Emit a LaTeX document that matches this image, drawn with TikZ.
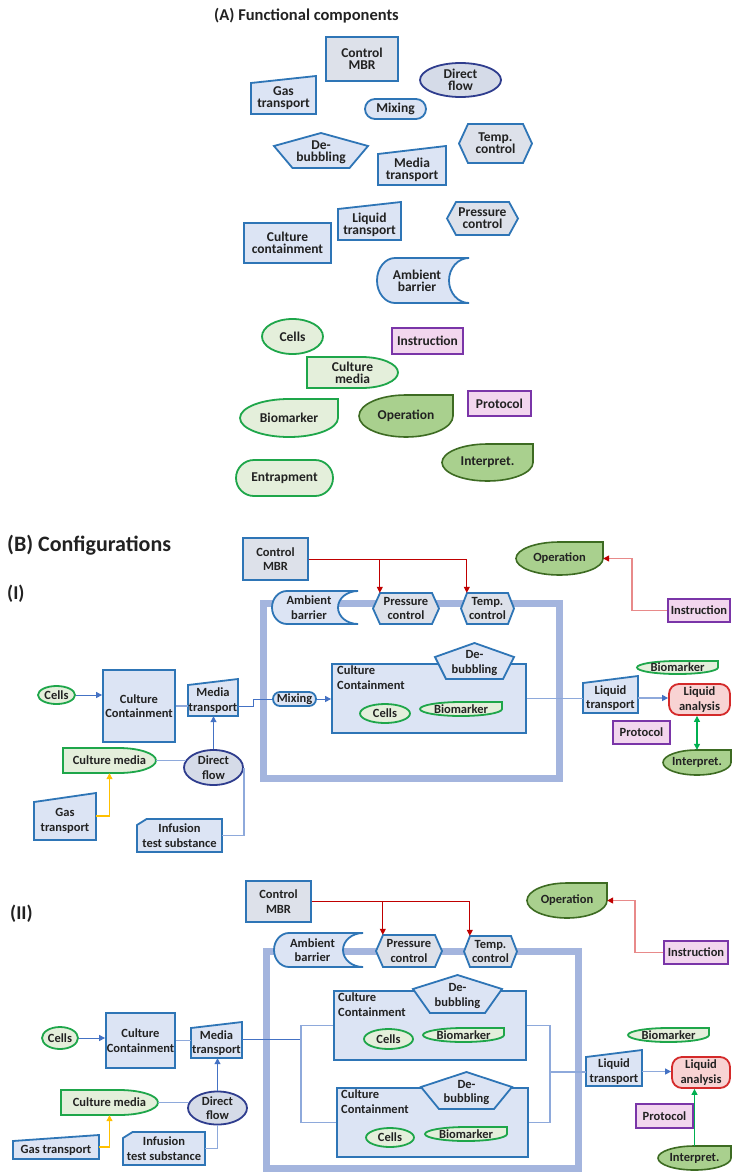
\documentclass[tikz,border=0pt]{standalone}
\usepackage{fontspec}
\setmainfont{Carlito}
\usetikzlibrary{shapes.geometric,arrows.meta,calc}

\definecolor{ink}{HTML}{222222}
\definecolor{bord}{HTML}{2E75B6}
\definecolor{fillb}{HTML}{DCE4F4}
\definecolor{fillg}{HTML}{DDE1EA}
\definecolor{navy}{HTML}{2F3D8E}
\definecolor{dffill}{HTML}{D5DBE8}
\definecolor{lgfill}{HTML}{E4EFDB}
\definecolor{lgbord}{HTML}{1EA64A}
\definecolor{dgfill}{HTML}{A9D08E}
\definecolor{dgbord}{HTML}{3D6B22}
\definecolor{pkfill}{HTML}{F2D6EE}
\definecolor{pkbord}{HTML}{7A35A8}
\definecolor{lafill}{HTML}{F8D3D3}
\definecolor{labord}{HTML}{D42A2A}
\definecolor{framec}{HTML}{A4B5DE}
\definecolor{conn}{HTML}{4472C4}
\definecolor{connl}{HTML}{8EA9DB}
\definecolor{ctrlred}{HTML}{C00000}
\definecolor{salmon}{HTML}{E88A8A}
\definecolor{amber}{HTML}{FFC000}
\definecolor{arrgreen}{HTML}{00B050}

\tikzset{
  txtbox/.style={inner sep=0pt, align=center, text=ink},
  bluesh/.style={draw=bord, fill=fillb, line width=1.8pt},
  graysh/.style={draw=bord, fill=fillg, line width=1.8pt},
  flowsh/.style={draw=navy, fill=dffill, line width=1.8pt},
  cellsh/.style={draw=lgbord, fill=lgfill, line width=1.8pt},
  darksh/.style={draw=dgbord, fill=dgfill, line width=1.6pt},
  notesh/.style={draw=pkbord, fill=pkfill, line width=1.8pt},
  anash/.style={draw=labord, fill=lafill, line width=1.8pt, rounded corners=10pt},
  framebox/.style={draw=framec, line width=7pt, inner sep=0pt},
  arr/.style={-{Triangle[length=6pt,width=6pt]}},
  arrb/.style={-{Triangle[length=6pt,width=6pt,color=conn]}},
  link/.style={draw=conn, line width=1pt},
  linkl/.style={draw=connl, line width=1.2pt},
  redl/.style={draw=ctrlred, line width=1pt},
  salm/.style={draw=salmon, line width=1.4pt, -{Triangle[length=6pt,width=6pt,color=ctrlred]}},
  amberl/.style={draw=amber, line width=1.2pt},
  grn/.style={draw=arrgreen, line width=1.2pt},
  fontA/.style={font=\bfseries\fontsize{13.5}{12}\selectfont},
  fontB/.style={font=\bfseries\fontsize{12.5}{14.5}\selectfont},
}

% manual-input shape: style, name, cx, cy, w, h, drop of top-left corner, text
\newcommand\maninnode[8]{%
  \draw[#1] ({#3-#5/2},{#4+#6/2}) -- ({#3-#5/2},{#4-#6/2+#7}) -- ({#3+#5/2},{#4-#6/2}) -- ({#3+#5/2},{#4+#6/2}) -- cycle;
  \node[txtbox,minimum width=#5pt,minimum height={#6pt-#7pt}] (#2) at (#3,{#4+#7/2}) {#8};}
% hexagon: style, name, cx, cy, w, h, inset, text
\newcommand\hexnode[8]{%
  \draw[#1] ({#3-#5/2},#4) -- ({#3-#5/2+#7},{#4-#6/2}) -- ({#3+#5/2-#7},{#4-#6/2}) -- ({#3+#5/2},#4) -- ({#3+#5/2-#7},{#4+#6/2}) -- ({#3-#5/2+#7},{#4+#6/2}) -- cycle;
  \node[txtbox,minimum width=#5pt,minimum height=#6pt] (#2) at (#3,#4) {#8};}
% pentagon with apex on top: style, name, cx, cy, w, h, shoulder drop, base inset, text
\newcommand\pentnode[9]{%
  \draw[#1] (#3,{#4-#6/2}) -- ({#3+#5/2},{#4-#6/2+#7}) -- ({#3+#5/2-#8},{#4+#6/2}) -- ({#3-#5/2+#8},{#4+#6/2}) -- ({#3-#5/2},{#4-#6/2+#7}) -- cycle;
  \node[txtbox,minimum width=#5pt,minimum height=#6pt] (#2) at (#3,{#4+2}) {#9};}
% ellipse with a square top-right corner: style, name, cx, cy, w, h, text
\newcommand\leafnode[7]{%
  \draw[#1] ({#3+#5/2},{#4-#6/2}) -- ({#3+#5/2},#4) arc[start angle=0,end angle=-270,x radius=#5pt/2,y radius=#6pt/2] -- cycle;
  \node[txtbox,minimum width=#5pt,minimum height=#6pt] (#2) at (#3,#4) {#7};}
% flat left side, rounded right end: style, name, cx, cy, w, h, text
\newcommand\bulletnode[7]{%
  \draw[#1] ({#3-#5/2},{#4+#6/2}) -- ({#3-#5/2},{#4-#6/2}) -- ({#3+#5/10},{#4-#6/2}) arc[start angle=90,end angle=-90,x radius=#5pt*0.4,y radius=#6pt/2] -- cycle;
  \node[txtbox,minimum width=#5pt,minimum height=#6pt] (#2) at (#3,#4) {#7};}
% barrier: convex left end, concave right end: style, name, x0, y0, x1, y1, r left, r right, text
\newcommand\ambnode[9]{%
  \draw[#1] ({#3+#7},#4) -- (#5,#4) arc[start angle=90,end angle=270,x radius=#8pt,y radius={(#6-#4)/2*1pt}] -- ({#3+#7},#6) arc[start angle=270,end angle=90,x radius=#7pt,y radius={(#6-#4)/2*1pt}] -- cycle;
  \node[txtbox,minimum width={#5pt-#3pt-#8pt},minimum height={#6pt-#4pt}] (#2) at ({(#3+#5-#8)/2+4},{(#4+#6)/2}) {#9};}
% rectangle with snipped top-left corner: style, name, cx, cy, w, h, cut, text
\newcommand\snipnode[8]{%
  \draw[#1] ({#3-#5/2},{#4+#6/2}) -- ({#3-#5/2},{#4-#6/2+#7}) -- ({#3-#5/2+1.6*#7},{#4-#6/2}) -- ({#3+#5/2},{#4-#6/2}) -- ({#3+#5/2},{#4+#6/2}) -- cycle;
  \node[txtbox,minimum width=#5pt,minimum height=#6pt] (#2) at (#3,#4) {#8};}

\begin{document}
\lineskiplimit=-100pt
\begin{tikzpicture}[x=1pt,y=-1pt]
\path[fill=white] (0,0) rectangle (731,1172);
\useasboundingbox (0,0) rectangle (731,1172);

% ---------------- (A) functional components ----------------
\node[txtbox,font=\bfseries\fontsize{16.5}{18}\selectfont] (titA) at (306.5,16) {(A) Functional components};
\begin{scope}[fontA]
\node[txtbox,graysh,minimum width=72pt,minimum height=44pt] (ctrlA) at (362,59) {Control\\MBR};
\node[txtbox,ellipse,flowsh,minimum width=81pt,minimum height=34pt] (dfA) at (460.5,80) {Direct\\flow};
\maninnode{bluesh}{gasA}{283.5}{95}{65}{38}{7}{Gas\\transport}
\node[txtbox,bluesh,rounded corners=10pt,minimum width=61pt,minimum height=20pt] (mixA) at (395.5,109) {Mixing};
\pentnode{bluesh}{debA}{321}{150.5}{94}{35}{13}{18.5}{De-\\bubbling}
\maninnode{bluesh}{mtA}{412}{165.5}{68}{39}{8}{Media\\transport}
\hexnode{graysh}{tempA}{495.5}{143.5}{73}{39}{9}{Temp.\\control}
\maninnode{bluesh}{ltA}{369.5}{221}{63}{38}{7}{Liquid\\transport}
\node[txtbox,bluesh,minimum width=87pt,minimum height=40pt] (ccA) at (287.5,243) {Culture\\containment};
\hexnode{graysh}{presA}{482.5}{218.5}{71}{33}{9}{Pressure\\control}
\ambnode{bluesh}{ambA}{377}{258}{469}{303}{18}{20}{Ambient\\barrier}
\node[txtbox,ellipse,cellsh,minimum width=61pt,minimum height=35pt] (cellsA) at (292.5,336.5) {Cells};
\node[txtbox,notesh,minimum width=71pt,minimum height=26pt] (instrA) at (427.5,341) {Instruction};
\bulletnode{cellsh}{cmA}{352.5}{372.5}{91}{31}{Culture\\media}
\node[txtbox,notesh,minimum width=63pt,minimum height=25pt] (protA) at (499.5,403.5) {Protocol};
\leafnode{cellsh}{bioA}{289}{418}{98}{38}{Biomarker}
\leafnode{darksh}{opA}{406}{416}{94}{42}{Operation}
\leafnode{darksh}{intA}{487.5}{462.5}{91}{37}{Interpret.}
\node[txtbox,cellsh,rounded corners=18pt,minimum width=97pt,minimum height=36pt] (entA) at (284.5,478) {Entrapment};
\end{scope}

% ---------------- (B) configurations ----------------
\node[txtbox,anchor=west,font=\bfseries\fontsize{22}{24}\selectfont] (titB) at (7,545) {(B) Configurations};
\node[txtbox,anchor=west,font=\bfseries\fontsize{19.5}{22}\selectfont] (titI) at (7,593.5) {(I)};
\node[txtbox,anchor=west,font=\bfseries\fontsize{19.5}{22}\selectfont] (titII) at (10,913.5) {(II)};

% ----- configuration (I) -----
\begin{scope}[fontB]
\node[framebox,minimum width=296pt,minimum height=175pt] (box1) at (411,690.5) {};
\node[txtbox,graysh,minimum width=65pt,minimum height=42pt] (ctrl1) at (275.5,559) {Control\\MBR};
\ambnode{bluesh}{amb1}{272}{591}{358}{624}{15}{20}{Ambient\\barrier}
\hexnode{graysh}{pres1}{406}{608.5}{66}{31}{7}{Pressure\\control}
\hexnode{graysh}{temp1}{487.5}{608.5}{53}{31}{6}{Temp.\\control}
\coordinate (p1in) at ([xshift=7pt]pres1.north west);
\coordinate (t1in) at ([xshift=6pt]temp1.north west);
\draw[redl,arr] (ctrl1.east) -| (p1in);
\draw[redl,arr] (ctrl1.east) -| (t1in);

\leafnode{darksh}{op1}{559.5}{558.5}{87}{33}{Operation}
\node[txtbox,notesh,minimum width=62pt,minimum height=23pt] (instr1) at (699,610.5) {Instruction};
\draw[salm] (instr1.west) -- ++(-35,0) |- (op1.east);

\node[bluesh,minimum width=194pt,minimum height=69pt,inner sep=0pt] (cc1in) at (429,698.5) {};
\node[txtbox,anchor=north west,align=left] (cc1lab) at (337,666) {Culture\\Containment};
\pentnode{bluesh}{deb1}{474.5}{661}{79}{36}{14}{11}{De-\\bubbling}
\node[txtbox,ellipse,cellsh,minimum width=50pt,minimum height=19pt] (cells1in) at (385,713.5) {Cells};
\leafnode{cellsh}{bio1in}{461}{709}{82}{14}{Biomarker}
\node[txtbox,bluesh,rounded corners=7pt,minimum width=43pt,minimum height=14pt] (mix1) at (294.5,699) {Mixing};

\maninnode{bluesh}{lt1}{610.5}{694.5}{55}{37}{7}{Liquid\\transport}
\node[txtbox,anash,minimum width=61pt,minimum height=31pt] (la1) at (699.5,699.5) {Liquid\\analysis};
\leafnode{cellsh}{bio1r}{677.5}{667.5}{81}{13}{Biomarker}
\node[txtbox,notesh,minimum width=57pt,minimum height=23pt] (prot1) at (641.5,732.5) {Protocol};
\leafnode{darksh}{int1}{697}{762.5}{68}{25}{Interpret.}

\node[txtbox,ellipse,cellsh,minimum width=37pt,minimum height=18pt] (cells1) at (56.5,695) {Cells};
\node[txtbox,bluesh,minimum width=72pt,minimum height=72pt] (cc1) at (139,706) {Culture\\Containment};
\maninnode{bluesh}{mt1}{213}{697.5}{50}{37}{6}{Media\\transport}
\node[txtbox,ellipse,flowsh,minimum width=59pt,minimum height=35pt] (df1) at (213.5,767.5) {Direct\\flow};
\bulletnode{cellsh}{cm1}{109.5}{760.5}{93}{25}{Culture media}
\maninnode{bluesh}{gas1}{65}{816.5}{62}{47}{9}{Gas\\transport}
\snipnode{bluesh}{inf1}{179.5}{835.5}{85}{33}{6}{Infusion\\test substance}

\draw[link,arr] (cells1.east) -- (cells1.east -| cc1.west);
\draw[linkl] (cc1.east) -- (cc1.east -| mt1.west);
\draw[link] ([yshift=-6pt]mt1.east) -- ++(15,0) |- (mix1.west);
\draw[link,arr] (mix1.east) -- (mix1.east -| cc1in.west);
\draw[link,arr] (df1.north) -- (df1.north |- mt1.south);
\draw[linkl] (cm1.east) -- ([xshift=3pt]cm1.east -| df1.west);
\draw[amberl,arr] ([yshift=5pt]gas1.east) -| (cm1.south);
\draw[linkl] (inf1.east) -| (df1.east);
\draw[linkl] (cc1in.east) -- (cc1in.east -| lt1.west);
\draw[linkl,arrb] (lt1.east) -- (lt1.east -| la1.west);
\draw[grn,{Triangle[length=6pt,width=6pt]}-{Triangle[length=6pt,width=6pt]}] (int1.north) -- (int1.north |- la1.south);
\end{scope}

% ----- configuration (II) -----
\begin{scope}[fontB]
\node[framebox,minimum width=312pt,minimum height=217pt] (box2) at (422,1059.5) {};
\node[txtbox,graysh,minimum width=65pt,minimum height=41pt] (ctrl2) at (278.5,901.5) {Control\\MBR};
\ambnode{bluesh}{amb2}{274}{933}{363}{967}{15}{20}{Ambient\\barrier}
\hexnode{graysh}{pres2}{409}{951}{66}{32}{7}{Pressure\\control}
\hexnode{graysh}{temp2}{490.5}{951.5}{53}{31}{6}{Temp.\\control}
\coordinate (p2in) at ([xshift=7pt]pres2.north west);
\coordinate (t2in) at ([xshift=6pt]temp2.north west);
\draw[redl,arr] (ctrl2.east) -| (p2in);
\draw[redl,arr] (ctrl2.east) -| (t2in);

\leafnode{darksh}{op2}{567}{900.5}{80}{35}{Operation}
\node[txtbox,notesh,minimum width=64pt,minimum height=23pt] (instr2) at (696,952.5) {Instruction};
\draw[salm] (instr2.west) -- ++(-28,0) |- (op2.east);

\node[bluesh,minimum width=192pt,minimum height=69pt,inner sep=0pt] (cc2a) at (430,1025.5) {};
\node[txtbox,anchor=north west,align=left] (cc2alab) at (338,993) {Culture\\Containment};
\pentnode{bluesh}{deb2a}{457.5}{994}{89}{38}{14}{17}{De-\\bubbling}
\node[txtbox,ellipse,cellsh,minimum width=49pt,minimum height=20pt] (cells2a) at (388.5,1039) {Cells};
\leafnode{cellsh}{bio2a}{463.5}{1035}{81}{14}{Biomarker}

\node[bluesh,minimum width=191pt,minimum height=69pt,inner sep=0pt] (cc2b) at (432.5,1122.5) {};
\node[txtbox,anchor=north west,align=left] (cc2blab) at (341,1090) {Culture\\Containment};
\pentnode{bluesh}{deb2b}{466.5}{1090.5}{91}{37}{15}{18}{De-\\bubbling}
\node[txtbox,ellipse,cellsh,minimum width=48pt,minimum height=19pt] (cells2b) at (390,1137.5) {Cells};
\leafnode{cellsh}{bio2b}{466}{1134}{82}{14}{Biomarker}

\maninnode{bluesh}{lt2}{614}{1068}{56}{36}{7}{Liquid\\transport}
\node[txtbox,anash,minimum width=58pt,minimum height=31pt] (la2) at (701,1072.5) {Liquid\\analysis};
\leafnode{cellsh}{bio2r}{668.5}{1035}{81}{14}{Biomarker}
\node[txtbox,notesh,minimum width=57pt,minimum height=24pt] (prot2) at (664.5,1116) {Protocol};
\leafnode{darksh}{int2}{694.5}{1158}{73}{24}{Interpret.}

\node[txtbox,ellipse,cellsh,minimum width=36pt,minimum height=22pt] (cells2) at (60,1038) {Cells};
\node[txtbox,bluesh,minimum width=69pt,minimum height=55pt] (cc2) at (140.5,1040.5) {Culture\\Containment};
\maninnode{bluesh}{mt2}{216.5}{1040}{51}{36}{6}{Media\\transport}
\node[txtbox,ellipse,flowsh,minimum width=59pt,minimum height=32pt] (df2) at (217.5,1108) {Direct\\flow};
\bulletnode{cellsh}{cm2}{109.5}{1102.5}{97}{25}{Culture media}
\maninnode{bluesh}{gas2}{56}{1147}{86}{24}{6}{Gas transport}
\snipnode{bluesh}{inf2}{164}{1148.5}{82}{33}{6}{Infusion\\test substance}

\coordinate (j2l) at (301,1039);
\coordinate (j2r) at (550,1072);
\draw[link,arr] (cells2.east) -- (cells2.east -| cc2.west);
\draw[linkl] (cc2.east) -- (cc2.east -| mt2.west);
\draw[link] (j2l -| mt2.east) -- (j2l);
\draw[linkl] (j2l) |- (cc2a.west);
\draw[linkl] (j2l) |- (cc2b.west);
\draw[linkl] (cc2a.east) -| (j2r);
\draw[linkl] (cc2b.east) -| (j2r);
\draw[linkl] (j2r) -- (j2r -| lt2.west);
\draw[linkl,arrb] (lt2.east) -- (lt2.east -| la2.west);
\draw[grn,arr] (int2.north) -- (int2.north |- la2.south);
\draw[link,arr] (df2.north) -- (df2.north |- mt2.south);
\draw[linkl] (cm2.east) -- ([xshift=2pt]cm2.east -| df2.west);
\draw[amberl,arr] ([yshift=3pt]gas2.east) -| (cm2.south);
\draw[linkl] (inf2.east) -| (df2.south);
\end{scope}
\end{tikzpicture}
\end{document}
